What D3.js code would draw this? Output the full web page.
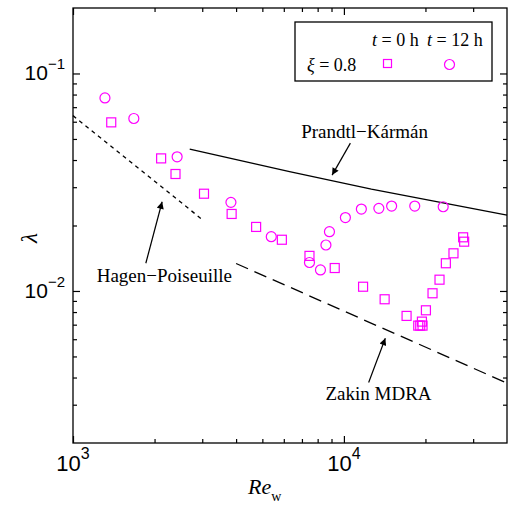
<!DOCTYPE html>
<html>
<head>
<meta charset="utf-8">
<script src="https://cdn.jsdelivr.net/npm/d3@7"></script>
<style>
  body { margin: 0; background: #fff; }
  svg { display: block; }
  .serif { font-family: "Liberation Serif", "Times New Roman", serif; }
  .sans { font-family: "Liberation Sans", Arial, sans-serif; }
</style>
</head>
<body>
<div id="chart"></div>
<script>
// t = 0 h (squares)
var reT0 = [1384, 2115, 2390, 3045, 3851, 4742, 5902, 7463, 9250, 11770, 14138, 17035,
  18812, 19133, 19510, 19410, 20080, 21240, 22540, 23790, 25380, 27550, 27790];
var lamT0 = [0.0596, 0.0407, 0.0345, 0.0280, 0.0226, 0.0197, 0.0172, 0.0145, 0.01275, 0.01046, 0.00916, 0.00768,
  0.00693, 0.00693, 0.00693, 0.00723, 0.00815, 0.00976, 0.01127, 0.01341, 0.0149, 0.01765, 0.01685];

// t = 12 h (circles)
var reT12 = [1312, 1677, 2423, 3828, 5394, 7463, 8193, 8584, 8844, 10128, 11600, 13458, 15003, 18262, 23255];
var lamT12 = [0.0772, 0.0621, 0.0414, 0.02555, 0.01776, 0.01352, 0.01249, 0.01627, 0.01873, 0.02176,
  0.0238, 0.02398, 0.02457, 0.02457, 0.02439];

// reference curves
var hpRe = [1000, 3000];
var hpLam = [0.064, 0.0213];
var pkRe = [2697, 6300, 12630, 40000];
var pkLam = [0.0449, 0.0354, 0.0294, 0.02234];
var mdRe = [4000, 40000];
var mdLam = [0.01338, 0.00377];

// axis ticks
var xMajor = [1e3, 1e4];
var xMinor = [2e3, 3e3, 4e3, 5e3, 6e3, 7e3, 8e3, 9e3, 2e4, 3e4];
var xExp = ["3", "4"];
var yMajor = [1e-1, 1e-2];
var yMinor = [3e-3, 4e-3, 5e-3, 6e-3, 7e-3, 8e-3, 9e-3, 2e-2, 3e-2, 4e-2, 5e-2, 6e-2, 7e-2, 8e-2, 9e-2];
var yExp = ["\u22121", "\u22122"];

var width = 509, height = 510;
var marginLeft = 73, marginTop = 8, plotW = 434, plotH = 435;

var svg = d3.select("#chart").append("svg")
  .attr("width", width)
  .attr("height", height);

var x = d3.scaleLog().domain([1e3, 4e4]).range([0, plotW]);
var y = d3.scaleLog().domain([2e-3, 2e-1]).range([plotH, 0]);

var g = svg.append("g").attr("transform", "translate(" + marginLeft + "," + marginTop + ")");

// arrow head
svg.append("defs").append("marker")
  .attr("id", "arrow")
  .attr("viewBox", "0 0 10 10")
  .attr("refX", 10).attr("refY", 5)
  .attr("markerWidth", 10).attr("markerHeight", 7)
  .attr("markerUnits", "userSpaceOnUse")
  .attr("orient", "auto")
  .append("path").attr("d", "M0,0L10,5L0,10z").attr("fill", "#000");

// inward ticks on all four sides
function tickAxis(axis, vals, len, tr) {
  var a = axis.tickValues(vals).tickSize(-len).tickFormat("");
  var ag = g.append("g").attr("transform", tr).call(a);
  ag.select(".domain").remove();
  ag.selectAll("line").attr("stroke", "#000").attr("stroke-width", 1.2);
}
tickAxis(d3.axisBottom(x), xMajor, 7, "translate(0," + plotH + ")");
tickAxis(d3.axisBottom(x), xMinor, 4, "translate(0," + plotH + ")");
tickAxis(d3.axisTop(x), xMajor, 7, "translate(0,0)");
tickAxis(d3.axisTop(x), xMinor, 4, "translate(0,0)");
tickAxis(d3.axisLeft(y), yMajor, 7, "translate(0,0)");
tickAxis(d3.axisLeft(y), yMinor, 4, "translate(0,0)");
tickAxis(d3.axisRight(y), yMajor, 7, "translate(" + plotW + ",0)");
tickAxis(d3.axisRight(y), yMinor, 4, "translate(" + plotW + ",0)");

// frame
g.append("rect")
  .attr("width", plotW).attr("height", plotH)
  .attr("fill", "none").attr("stroke", "#000").attr("stroke-width", 1.3);

// tick labels with powers of ten
xMajor.forEach(function(v, i) {
  var t = g.append("text").attr("class", "sans")
    .attr("x", x(v)).attr("y", plotH + 28)
    .attr("text-anchor", "middle").attr("font-size", 22);
  t.append("tspan").text("10");
  t.append("tspan").attr("dy", -12).attr("font-size", 16).text(xExp[i]);
});
yMajor.forEach(function(v, i) {
  var t = g.append("text").attr("class", "sans")
    .attr("x", -8).attr("y", y(v) + 7)
    .attr("text-anchor", "end").attr("font-size", 21);
  t.append("tspan").text("10");
  t.append("tspan").attr("dy", -11).attr("font-size", 15).text(yExp[i]);
});

// axis titles
var xt = svg.append("text").attr("class", "serif")
  .attr("x", 248).attr("y", 494).attr("font-size", 22);
xt.append("tspan").attr("font-style", "italic").text("Re");
xt.append("tspan").attr("dy", 7).attr("font-size", 14).text("w");

svg.append("text").attr("class", "serif")
  .attr("transform", "translate(37,238)rotate(-90)")
  .attr("text-anchor", "middle")
  .attr("font-size", 23).attr("font-style", "italic")
  .text("\u03bb");

// reference lines
var line = d3.line().x(function(d) { return x(d[0]); }).y(function(d) { return y(d[1]); });
function refLine(res, lams, dash) {
  g.append("path")
    .datum(res.map(function(r, i) { return [r, lams[i]]; }))
    .attr("d", line)
    .attr("fill", "none").attr("stroke", "#000").attr("stroke-width", 1.3)
    .attr("stroke-dasharray", dash);
}
refLine(hpRe, hpLam, "4,4");
refLine(pkRe, pkLam, null);
refLine(mdRe, mdLam, "13,7");

// data points
g.selectAll(".sq").data(reT0).enter().append("rect")
  .attr("class", "sq")
  .attr("x", function(d) { return x(d) - 4.5; })
  .attr("y", function(d, i) { return y(lamT0[i]) - 4.5; })
  .attr("width", 9).attr("height", 9)
  .attr("fill", "none").attr("stroke", "#ff00ff").attr("stroke-width", 1.2);

g.selectAll(".ci").data(reT12).enter().append("circle")
  .attr("class", "ci")
  .attr("cx", function(d) { return x(d); })
  .attr("cy", function(d, i) { return y(lamT12[i]); })
  .attr("r", 5)
  .attr("fill", "none").attr("stroke", "#ff00ff").attr("stroke-width", 1.2);

// annotations (text position, arrow tail, arrow tip) in data units
var notes = [
  { label: "Prandtl\u2212K\u00e1rm\u00e1n", at: [6956, 0.05044], from: [10566, 0.04783], to: [9046, 0.0341] },
  { label: "Hagen\u2212Poiseuille", at: [1223, 0.01103], from: [1857, 0.01341], to: [2133, 0.02571] },
  { label: "Zakin MDRA", at: [8550, 0.003157], from: [12340, 0.003792], to: [14220, 0.006064] }
];
notes.forEach(function(n) {
  g.append("text").attr("class", "serif")
    .attr("x", x(n.at[0])).attr("y", y(n.at[1]))
    .attr("font-size", 19).text(n.label);
  g.append("line")
    .attr("x1", x(n.from[0])).attr("y1", y(n.from[1]))
    .attr("x2", x(n.to[0])).attr("y2", y(n.to[1]))
    .attr("stroke", "#000").attr("stroke-width", 1.2)
    .attr("marker-end", "url(#arrow)");
});

// legend
var lg = svg.append("g").attr("class", "serif");
lg.append("rect")
  .attr("x", 295).attr("y", 22).attr("width", 197).attr("height", 59)
  .attr("fill", "#fff").attr("stroke", "#000").attr("stroke-width", 1.3);
var l1 = lg.append("text").attr("x", 372).attr("y", 46).attr("font-size", 18);
l1.append("tspan").attr("font-style", "italic").text("t");
l1.append("tspan").text(" = 0 h");
var l2 = lg.append("text").attr("x", 427).attr("y", 46).attr("font-size", 18);
l2.append("tspan").attr("font-style", "italic").text("t");
l2.append("tspan").text(" = 12 h");
var l3 = lg.append("text").attr("x", 307).attr("y", 71).attr("font-size", 18);
l3.append("tspan").attr("font-style", "italic").text("\u03be");
l3.append("tspan").text("  = 0.8");
lg.append("rect")
  .attr("x", 383.5).attr("y", 59.5).attr("width", 8).attr("height", 8)
  .attr("fill", "none").attr("stroke", "#ff00ff").attr("stroke-width", 1.2);
lg.append("circle")
  .attr("cx", 449.5).attr("cy", 64.5).attr("r", 5)
  .attr("fill", "none").attr("stroke", "#ff00ff").attr("stroke-width", 1.2);
</script>
</body>
</html>
